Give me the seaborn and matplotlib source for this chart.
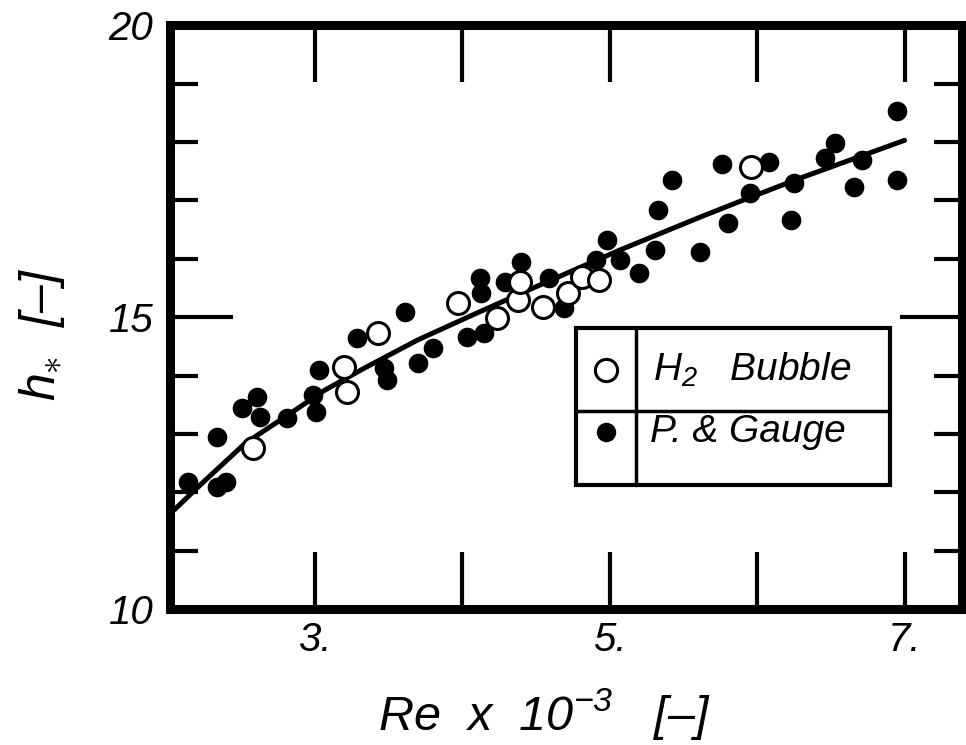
import matplotlib
matplotlib.use("Agg")
import matplotlib.pyplot as plt
import seaborn as sns
import pandas as pd
from matplotlib.patches import Rectangle
from matplotlib.lines import Line2D

# ---- data ----
h2_re = [2.58, 3.20, 3.22, 3.43, 3.97, 4.24, 4.38, 4.39, 4.55, 4.72, 4.81, 4.93, 5.96]
h2_h = [12.76, 14.15, 13.72, 14.72, 15.24, 14.98, 15.29, 15.60, 15.17, 15.41, 15.69, 15.63, 17.57]

pg_re = [2.14, 2.34, 2.40, 2.34, 2.51, 2.61, 2.63, 2.81, 2.99, 3.01, 3.03, 3.29, 3.49,
         3.47, 3.61, 3.70, 3.80, 4.03, 4.15, 4.12, 4.13, 4.29, 4.40, 4.59, 4.69, 4.91,
         4.98, 5.07, 5.20, 5.31, 5.33, 5.42, 5.61, 5.76, 5.80, 5.95, 6.08, 6.25, 6.23,
         6.46, 6.53, 6.66, 6.71, 6.95, 6.95]
pg_h = [12.17, 12.09, 12.17, 12.95, 13.44, 13.63, 13.29, 13.27, 13.66, 13.37, 14.09, 14.64, 13.92,
        14.13, 15.09, 14.21, 14.47, 14.66, 14.72, 15.67, 15.41, 15.60, 15.94, 15.67, 15.15, 15.98,
        16.32, 15.98, 15.75, 16.15, 16.83, 17.35, 16.11, 17.63, 16.61, 17.12, 17.65, 17.29, 16.66,
        17.72, 17.98, 17.23, 17.69, 18.54, 17.35]

curve_re = [2.05, 2.21, 2.53, 2.80, 3.07, 3.34, 3.70, 4.10, 4.59, 5.07, 5.61, 5.88, 6.29, 7.00]
curve_h = [11.70, 12.09, 12.84, 13.29, 13.75, 14.13, 14.61, 15.07, 15.62, 16.15, 16.71, 16.98, 17.38, 18.03]

x_major = [3, 5, 7]
x_major_labels = ["3.", "5.", "7."]
x_minor = [4, 6]
y_major = [10, 15, 20]
y_major_labels = ["10", "15", "20"]
y_minor = [11, 12, 13, 14, 16, 17, 18, 19]

legend_labels = ["$H_2$   Bubble", "P. & Gauge"]

# ---- style ----
sns.set_theme(style="white")
FONT = ["Liberation Sans", "DejaVu Sans"]
plt.rcParams["font.family"] = FONT
plt.rcParams["mathtext.fontset"] = "custom"
plt.rcParams["mathtext.it"] = "Liberation Sans:italic"
plt.rcParams["mathtext.rm"] = "Liberation Sans:italic"
plt.rcParams["mathtext.default"] = "it"
plt.rcParams["text.color"] = "black"
plt.rcParams["axes.labelcolor"] = "black"
plt.rcParams["xtick.color"] = "black"
plt.rcParams["ytick.color"] = "black"

fig = plt.figure(figsize=(9.66, 7.45), dpi=100)
ax = fig.add_axes([0.176, 0.1826, 0.820, 0.7834])

df_h2 = pd.DataFrame({"Re": h2_re, "h": h2_h})
df_pg = pd.DataFrame({"Re": pg_re, "h": pg_h})
df_c = pd.DataFrame({"Re": curve_re, "h": curve_h})

sns.lineplot(data=df_c, x="Re", y="h", ax=ax, color="black", lw=3.6, zorder=2,
             sort=True, estimator=None)
sns.scatterplot(data=df_pg, x="Re", y="h", ax=ax, color="black", s=200, marker="o",
                edgecolor="black", linewidth=0, zorder=3)
sns.scatterplot(data=df_h2, x="Re", y="h", ax=ax, facecolor="white", s=250, marker="o",
                edgecolor="black", linewidth=2.2, zorder=4)

ax.set_xlim(2.02, 7.39)
ax.set_ylim(10, 20)

for s in ax.spines.values():
    s.set_linewidth(6.5)
    s.set_color("black")
    s.set_visible(True)

ax.set_xticks(x_major)
ax.set_xticklabels(x_major_labels)
ax.set_xticks(x_minor, minor=True)
ax.set_yticks(y_major)
ax.set_yticklabels(y_major_labels)
ax.set_yticks(y_minor, minor=True)

ax.tick_params(axis="x", which="both", direction="in", length=41, width=3,
               top=True, bottom=True, color="black", pad=9, labelsize=29,
               labelcolor="black")
ax.tick_params(axis="y", which="major", direction="in", length=45, width=3,
               left=True, right=True, color="black", pad=12, labelsize=29,
               labelcolor="black")
ax.tick_params(axis="y", which="minor", direction="in", length=20, width=3,
               left=True, right=True, color="black")
for lab in ax.get_xticklabels() + ax.get_yticklabels():
    lab.set_style("italic")

ax.set_xlabel("Re  x  10$^{-3}$   [–]", fontsize=35, style="italic", color="black")
ax.set_ylabel("$h_{\\ast}$  [–]", fontsize=36, style="italic", color="black")
ax.xaxis.label.set_va("center")
ax.xaxis.set_label_coords(0.473, -0.18)
ax.yaxis.label.set_va("center")
ax.yaxis.set_label_coords(-0.162, 0.47)
ax.grid(False)

# ---- legend table ----
bx0, bx1, by0, by1 = 0.513, 0.909, 0.212, 0.481
xdiv, ydiv = 0.588, 0.339
ax.add_patch(Rectangle((bx0, by0), bx1 - bx0, by1 - by0, transform=ax.transAxes,
                       facecolor="white", edgecolor="black", lw=3, zorder=5))
ax.add_line(Line2D([xdiv, xdiv], [by0, by1], transform=ax.transAxes, color="black", lw=2.5, zorder=6))
ax.add_line(Line2D([bx0, bx1], [ydiv, ydiv], transform=ax.transAxes, color="black", lw=2.5, zorder=6))
ax.plot([0.551], [0.409], transform=ax.transAxes, marker="o", ms=16, mfc="white",
        mec="black", mew=2.2, zorder=7, ls="none")
ax.plot([0.551], [0.303], transform=ax.transAxes, marker="o", ms=13, mfc="black",
        mec="black", zorder=7, ls="none")
ax.text(0.610, 0.409, legend_labels[0], transform=ax.transAxes, fontsize=28,
        style="italic", va="center", ha="left", zorder=7, color="black")
ax.text(0.606, 0.303, legend_labels[1], transform=ax.transAxes, fontsize=28,
        style="italic", va="center", ha="left", zorder=7, color="black")

fig.savefig("out.png", dpi=100)
